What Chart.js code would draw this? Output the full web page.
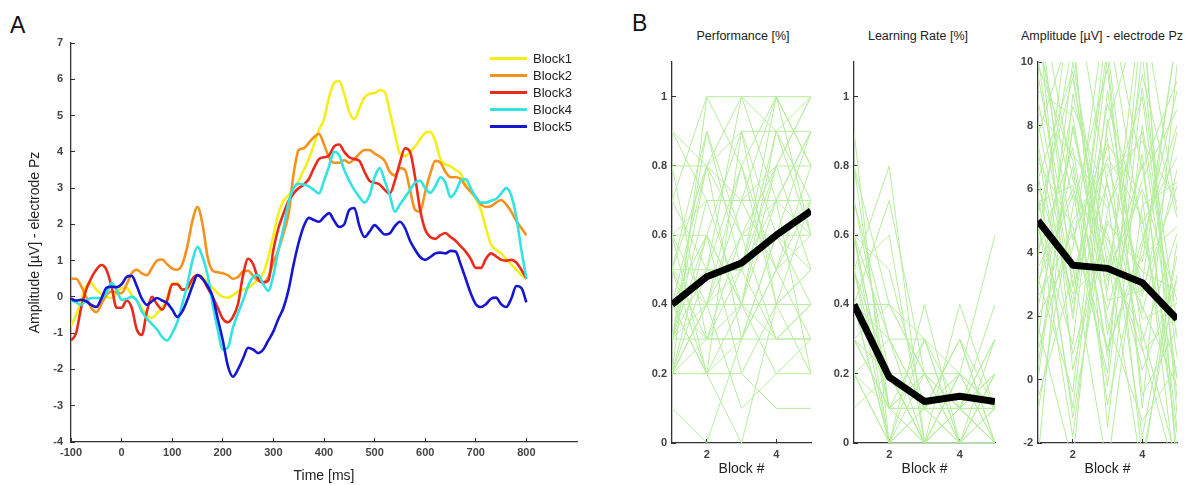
<!DOCTYPE html>
<html lang="en">
<head>
<meta charset="UTF-8">
<title>Pz amplitude and behaviour across blocks</title>
<script src="https://cdn.jsdelivr.net/npm/chart.js@4.4.1/dist/chart.umd.min.js"></script>
<style>
  html, body { margin: 0; padding: 0; background: #fff; }
  body { width: 1191px; height: 485px; position: relative; overflow: hidden; font-family: 'Liberation Sans', Arial, sans-serif; }
  .box { position: absolute; top: 0; height: 485px; }
  .letter { position: absolute; font-size: 23px; color: #111; }
  .ptitle { position: absolute; top: 29px; font-size: 12.5px; color: #222; white-space: nowrap; transform: translateX(-50%); }
  #legendA { position: absolute; left: 490px; top: 50px; font-size: 13px; color: #222; }
  #legendA div { height: 17px; display: flex; align-items: center; }
  #legendA .sw { display: inline-block; width: 37px; height: 3px; margin-right: 6px; }
</style>
</head>
<body>
<div class="letter" style="left:10px;top:12px">A</div>
<div class="letter" style="left:632px;top:10px">B</div>

<div class="box" style="left:0;width:600px"><canvas id="erpChart"></canvas></div>
<div id="legendA"></div>

<div class="ptitle" style="left:743px">Performance [%]</div>
<div class="ptitle" style="left:918px">Learning Rate [%]</div>
<div class="ptitle" style="left:1102px">Amplitude [µV] - electrode Pz</div>
<div class="box" style="left:630px;width:185px"><canvas id="perfChart"></canvas></div>
<div class="box" style="left:812px;width:187px"><canvas id="learnChart"></canvas></div>
<div class="box" style="left:996px;width:195px"><canvas id="ampChart"></canvas></div>

<script>
// ---- Panel A: grand average ERP at Pz, one trace per block ----
const timeMs = [-100,-90,-80,-70,-60,-50,-40,-30,-20,-10,0,10,20,30,40,50,60,70,80,90,
  100,110,120,130,140,150,160,170,180,190,200,210,220,230,240,250,260,270,280,290,
  300,310,320,330,340,350,360,370,380,390,400,410,420,430,440,450,460,470,480,490,
  500,510,520,530,540,550,560,570,580,590,600,610,620,630,640,650,660,670,680,690,
  700,710,720,730,740,750,760,770,780,790,800];

const block1 = [-0.8,-0.5,-0.1,0.3,0.38,0.2,0.08,0.0,-0.03,0.1,0.25,0.25,0.05,-0.1,-0.3,-0.5,-0.58,-0.45,-0.3,0.0,
  0.35,0.38,0.2,0.2,0.45,0.6,0.55,0.4,0.25,0.1,0.0,-0.02,0.05,0.15,0.2,0.25,0.35,0.5,0.65,1.1,
  1.7,2.3,2.65,2.8,3.0,3.2,3.5,3.8,4.2,4.6,4.9,5.5,5.9,5.95,5.6,5.1,4.9,5.2,5.5,5.6,
  5.62,5.7,5.65,5.1,4.5,3.95,3.88,4.0,4.15,4.35,4.52,4.55,4.3,3.8,3.65,3.6,3.5,3.4,3.1,2.9,
  2.7,2.4,1.9,1.45,1.3,1.2,1.05,0.9,0.75,0.6,0.5];
const block2 = [0.5,0.5,0.3,0.0,-0.3,-0.42,-0.2,0.05,0.15,0.12,0.1,0.35,0.65,0.75,0.65,0.6,0.8,1.0,1.03,0.9,
  0.78,0.75,0.9,1.4,2.1,2.48,2.0,1.1,0.72,0.68,0.65,0.6,0.5,0.55,0.7,0.72,0.58,0.45,0.4,0.55,
  0.95,1.3,1.75,2.3,3.4,4.05,4.1,4.25,4.4,4.5,4.2,3.85,3.7,3.7,3.77,3.7,3.8,3.95,4.05,4.05,
  3.95,3.87,3.75,3.45,3.35,3.55,3.5,2.95,2.4,2.35,2.9,3.4,3.75,3.7,3.45,3.3,3.3,3.25,3.05,2.9,
  2.75,2.55,2.48,2.5,2.6,2.67,2.55,2.35,2.1,1.9,1.7];
const block3 = [-1.2,-1.0,-0.3,0.2,0.52,0.75,0.88,0.75,0.3,-0.3,-0.3,-0.1,-0.3,-0.9,-1.05,-0.4,0.0,-0.2,-0.35,-0.1,
  0.35,0.35,0.2,0.25,0.5,0.6,0.5,0.25,0.0,-0.3,-0.6,-0.7,-0.55,-0.2,0.6,1.05,0.9,0.5,0.4,0.45,
  1.3,1.9,2.3,2.65,2.85,3.0,3.1,3.25,3.55,3.8,3.85,3.9,4.15,4.2,4.0,3.85,3.8,3.75,3.45,3.2,
  3.15,3.1,2.95,2.85,3.2,3.7,4.1,4.0,3.3,2.4,1.85,1.65,1.6,1.7,1.76,1.65,1.55,1.4,1.25,1.05,
  0.8,0.8,1.05,1.2,1.12,1.02,1.0,1.02,0.95,0.75,0.5];
const block4 = [-0.1,-0.15,-0.22,-0.1,-0.03,-0.03,-0.03,0.1,0.38,0.2,-0.08,-0.05,0.0,-0.1,-0.4,-0.6,-0.75,-0.9,-1.1,-1.2,
  -1.0,-0.7,-0.2,0.35,1.0,1.38,1.1,0.6,-0.2,-0.9,-1.45,-1.4,-0.85,-0.45,-0.1,0.3,0.55,0.6,0.35,0.17,
  0.6,1.3,1.9,2.6,3.0,3.12,3.1,3.05,2.95,2.85,3.2,3.6,4.0,3.9,3.5,3.2,2.95,2.75,2.6,2.8,
  3.3,3.55,3.2,2.8,2.35,2.55,2.75,2.95,3.15,3.2,3.0,2.87,3.05,3.3,3.15,2.75,2.9,3.2,3.25,3.0,
  2.75,2.6,2.6,2.65,2.7,2.85,3.0,2.8,2.2,1.3,0.5];
const block5 = [-0.05,-0.1,-0.08,-0.12,-0.22,-0.28,-0.05,0.25,0.28,0.27,0.35,0.55,0.58,0.3,-0.05,-0.22,-0.12,-0.03,-0.1,-0.17,
  -0.35,-0.55,-0.4,-0.08,0.3,0.6,0.5,0.3,0.0,-0.6,-1.2,-1.9,-2.2,-2.0,-1.7,-1.4,-1.45,-1.55,-1.45,-1.2,
  -0.95,-0.6,-0.3,0.2,0.9,1.5,1.95,2.18,2.12,2.07,2.2,2.31,2.1,1.93,2.0,2.4,2.45,1.95,1.65,1.8,
  1.98,1.85,1.72,1.75,1.95,2.07,1.9,1.55,1.3,1.1,1.02,1.1,1.2,1.22,1.2,1.27,1.25,0.9,0.5,0.1,
  -0.2,-0.28,-0.2,-0.05,-0.02,-0.2,-0.28,-0.05,0.3,0.25,-0.15];

const blockNames = ['Block1', 'Block2', 'Block3', 'Block4', 'Block5'];
const blockColors = ['#f4ef1c', '#f5921e', '#ec2a1c', '#33e2e2', '#1515d2'];
const blockSeries = [block1, block2, block3, block4, block5];
const erpYTicks = [-4, -3, -2, -1, 0, 1, 2, 3, 4, 5, 6, 7];
const erpXTicks = [-100, 0, 100, 200, 300, 400, 500, 600, 700, 800];

// ---- Panel B: per-subject values over the five blocks (green) and their mean (black) ----
const blocks = [1, 2, 3, 4, 5];
const blockTicks = [2, 4];

const perfSubjects = [
  [0.4,0.5,0.5,0.6,0.7],[0.2,0.4,0.5,0.7,0.9],[0.3,0.3,0.3,0.5,0.6],[0.5,0.5,0.5,0.8,1.0],
  [0.8,0.8,0.6,0.7,0.7],[0.2,1.0,1.0,0.9,1.0],[0.6,0.2,0.4,0.8,0.8],[0.4,0.4,0.4,0.4,0.4],
  [0.3,0.6,0.9,0.9,0.9],[0.1,0.0,0.3,0.3,0.3],[0.9,0.7,0.7,1.0,0.8],[0.3,0.8,0.3,0.6,0.5],
  [0.5,0.3,0.6,0.6,0.6],[0.2,0.2,0.2,0.4,0.2],[0.4,0.6,0.2,0.1,0.1],[0.7,0.5,0.8,1.0,1.0],
  [0.3,0.4,0.7,0.7,0.9],[0.5,0.9,0.5,0.3,0.4],[0.2,0.5,1.0,1.0,0.6],[0.4,0.2,0.0,0.4,0.5],
  [0.6,0.6,0.4,0.2,0.2],[0.3,0.7,0.7,0.5,0.8],[0.8,0.3,0.5,0.9,0.7],[0.2,0.4,0.6,0.3,0.3],
  [0.5,0.8,0.9,0.6,0.4],[0.4,0.3,0.3,0.5,0.7],[0.3,0.9,0.6,0.8,1.0],[0.6,0.4,0.1,0.2,0.3],
  [0.2,0.6,0.4,0.7,0.6],[0.7,1.0,0.8,0.4,0.5],[0.4,0.2,0.3,0.6,0.9],[0.5,0.4,0.8,0.5,0.3],
  [0.3,0.5,0.5,1.0,0.8],[0.9,0.8,1.0,0.7,0.2],[0.2,0.3,0.4,0.9,0.6],[0.6,0.7,0.4,0.3,0.4],
  [0.4,0.8,0.7,0.8,0.5],[0.5,0.2,0.9,0.4,0.7]
];
const perfMean = [0.40, 0.48, 0.52, 0.60, 0.67];
const unitTicks = [0, 0.2, 0.4, 0.6, 0.8, 1];

const learnSubjects = [
  [0.5,0.0,0.1,0.2,0.1],[0.8,0.1,0.0,0.1,0.0],[0.3,0.2,0.1,0.0,0.2],[0.6,0.3,0.0,0.2,0.1],
  [0.4,0.4,0.2,0.1,0.0],[0.2,0.0,0.3,0.0,0.3],[0.7,0.2,0.1,0.3,0.1],[0.5,0.8,0.0,0.1,0.0],
  [0.3,0.1,0.2,0.2,0.0],[0.4,0.0,0.4,0.0,0.2],[0.6,0.5,0.1,0.1,0.1],[0.2,0.3,0.3,0.0,0.0],
  [0.9,0.0,0.0,0.2,0.6],[0.3,0.2,0.0,0.4,0.1],[0.5,0.1,0.1,0.0,0.0],[0.4,0.7,0.2,0.1,0.4],
  [0.1,0.2,0.0,0.0,0.1],[0.6,0.0,0.1,0.3,0.0],[0.3,0.4,0.2,0.1,0.2],[0.5,0.6,0.0,0.0,0.1],
  [0.2,0.1,0.3,0.2,0.0],[0.7,0.3,0.1,0.1,0.3],[0.4,0.0,0.0,0.2,0.1],[0.3,0.2,0.2,0.0,0.0],
  [0.6,0.1,0.0,0.1,0.2],[0.4,0.3,0.1,0.3,0.0],[0.2,0.0,0.2,0.1,0.1],[0.5,0.2,0.0,0.0,0.0],
  [0.3,0.1,0.1,0.2,0.1],[0.8,0.4,0.3,0.1,0.0],[0.4,0.2,0.0,0.1,0.3],[0.6,0.1,0.2,0.0,0.1]
];
const learnMean = [0.40, 0.19, 0.12, 0.135, 0.12];

const ampSubjects = [
  [5.2,9.5,3.1,6.8,-1.5],[8.1,2.4,10.5,1.2,4.6],[2.3,6.7,-0.8,4.2,9.1],[11.0,4.4,7.6,-2.5,3.3],
  [6.5,-1.2,5.3,8.9,0.7],[0.4,7.9,2.8,12.0,-3.0],[9.6,3.6,-2.8,5.5,6.2],[3.8,12.5,6.1,1.9,2.4],
  [7.2,0.8,4.9,3.7,10.8],[-1.0,5.4,9.8,-0.5,1.6],[4.5,10.6,1.4,7.1,-2.2],[12.4,6.3,3.4,9.6,5.1],
  [1.7,-2.6,8.2,2.6,7.8],[6.9,4.8,0.2,11.5,-1.1],[2.9,8.6,5.7,-1.8,3.9],[10.2,1.9,11.3,4.6,0.1],
  [5.6,6.1,2.2,6.3,8.5],[-2.5,9.0,4.1,0.9,2.0],[8.8,3.0,7.4,5.8,-3.5],[3.2,-0.4,9.1,2.1,6.6],
  [7.7,11.2,-1.5,8.0,1.3],[0.9,5.0,6.8,3.0,11.0],[6.1,2.7,3.9,-2.9,4.3],[4.0,7.3,0.7,10.3,-0.6],
  [11.5,0.3,5.0,3.4,2.8],[2.0,4.1,12.0,6.6,9.4],[9.1,8.3,1.8,-1.3,0.4],[5.0,-1.8,6.5,7.5,5.6],
  [1.2,10.0,3.6,1.5,-2.6],[7.4,2.1,8.7,4.9,7.0],[3.5,6.0,-0.2,9.2,1.8],[10.8,5.7,4.6,0.3,3.1],
  [-0.6,3.3,7.0,5.1,-1.7],[6.3,9.7,2.5,2.8,6.1],[4.8,1.1,10.2,-0.9,9.9],[8.4,7.1,5.4,7.8,0.0],
  [2.6,4.6,1.0,3.9,4.8],[12.0,2.9,6.2,1.0,-3.2],[0.0,8.0,3.3,6.0,2.5],[5.8,-0.9,8.0,11.8,5.3],
  [3.1,5.8,4.4,2.3,-0.2],[9.9,6.9,0.9,4.4,8.0]
];
const ampMean = [5.0, 3.6, 3.5, 3.05, 1.9];
const ampTicks = [-2, 0, 2, 4, 6, 8, 10];

// ---- shared look ----
Chart.defaults.font.family = "'Liberation Sans', Arial, sans-serif";
Chart.defaults.animation = false;
Chart.defaults.plugins.legend.display = false;
Chart.defaults.plugins.tooltip.enabled = false;

const axisColor = '#333';
const tickFont = { family: "'Liberation Sans Narrow', 'Liberation Sans', Arial", size: 11, weight: 'bold' };
const subjectGreen = '#b6ee9e';

// matlab-like axis: only left/bottom lines, short inward ticks, fixed tick list
function axis(tickValues, opts) {
  return Object.assign({
    type: 'linear',
    afterBuildTicks: s => { s.ticks = tickValues.map(v => ({ value: v })); },
    grid: { drawOnChartArea: false, tickLength: -4, tickColor: axisColor, tickWidth: 1 },
    border: { color: axisColor, width: 1.3 }
  }, opts);
}
const tickOpts = pad => ({ color: '#444', font: tickFont, padding: pad, maxRotation: 0, callback: v => String(v) });

// ---- panel A chart ----
new Chart(document.getElementById('erpChart'), {
  type: 'line',
  data: {
    datasets: blockSeries.map((vals, i) => ({
      label: blockNames[i],
      data: vals.map((v, j) => ({ x: timeMs[j], y: v })),
      borderColor: blockColors[i],
      borderWidth: 2.6,
      pointRadius: 0,
      tension: 0.35,
      cubicInterpolationMode: 'monotone',
      order: blockNames.length - i   // later blocks drawn on top
    }))
  },
  options: {
    responsive: true,
    maintainAspectRatio: false,
    layout: { padding: { left: 27, top: 43, right: 23, bottom: 0 } },
    scales: {
      x: axis(erpXTicks, {
        min: -100, max: 900,
        ticks: tickOpts(8),
        title: { display: true, text: 'Time [ms]', color: '#222', font: { size: 14 }, padding: 0 },
        afterFit: s => { s.height = 43; }
      }),
      y: axis(erpYTicks, {
        min: -4, max: 7,
        ticks: tickOpts(12),
        title: { display: true, text: 'Amplitude [µV] - electrode Pz', color: '#222', font: { size: 14 }, padding: 0 },
        afterFit: s => { s.width = 44; }
      })
    }
  }
});

// legend for panel A, built from the block names/colours
const legendA = document.getElementById('legendA');
blockNames.forEach((name, i) => {
  const row = document.createElement('div');
  row.innerHTML = '<span class="sw" style="background:' + blockColors[i] + '"></span>' + name;
  legendA.appendChild(row);
});

// ---- panel B charts ----
function blockChart(id, subjects, mean, yMin, yMax, yTicks, padRight) {
  const sets = subjects.map(vals => ({
    data: vals.map((v, j) => ({ x: blocks[j], y: v })),
    borderColor: subjectGreen,
    borderWidth: 1,
    pointRadius: 0,
    order: 1
  }));
  sets.push({
    data: mean.map((v, j) => ({ x: blocks[j], y: v })),
    borderColor: '#000',
    borderWidth: 7,
    borderJoinStyle: 'round',
    pointRadius: 0,
    order: 0
  });
  new Chart(document.getElementById(id), {
    type: 'line',
    data: { datasets: sets },
    options: {
      responsive: true,
      maintainAspectRatio: false,
      layout: { padding: { left: 0, top: 62, right: padRight, bottom: 7 } },
      scales: {
        x: axis(blockTicks, {
          min: 1, max: 5,
          ticks: tickOpts(9),
          title: { display: true, text: 'Block #', color: '#222', font: { size: 14 }, padding: 0 },
          afterFit: s => { s.height = 35; }
        }),
        y: axis(yTicks, {
          min: yMin, max: yMax,
          ticks: tickOpts(9),
          afterFit: s => { s.width = 42; }
        })
      }
    }
  });
}

blockChart('perfChart', perfSubjects, perfMean, 0, 1.1, unitTicks, 4);
blockChart('learnChart', learnSubjects, learnMean, 0, 1.1, unitTicks, 4);
blockChart('ampChart', ampSubjects, ampMean, -2, 10, ampTicks, 14);
</script>
</body>
</html>
